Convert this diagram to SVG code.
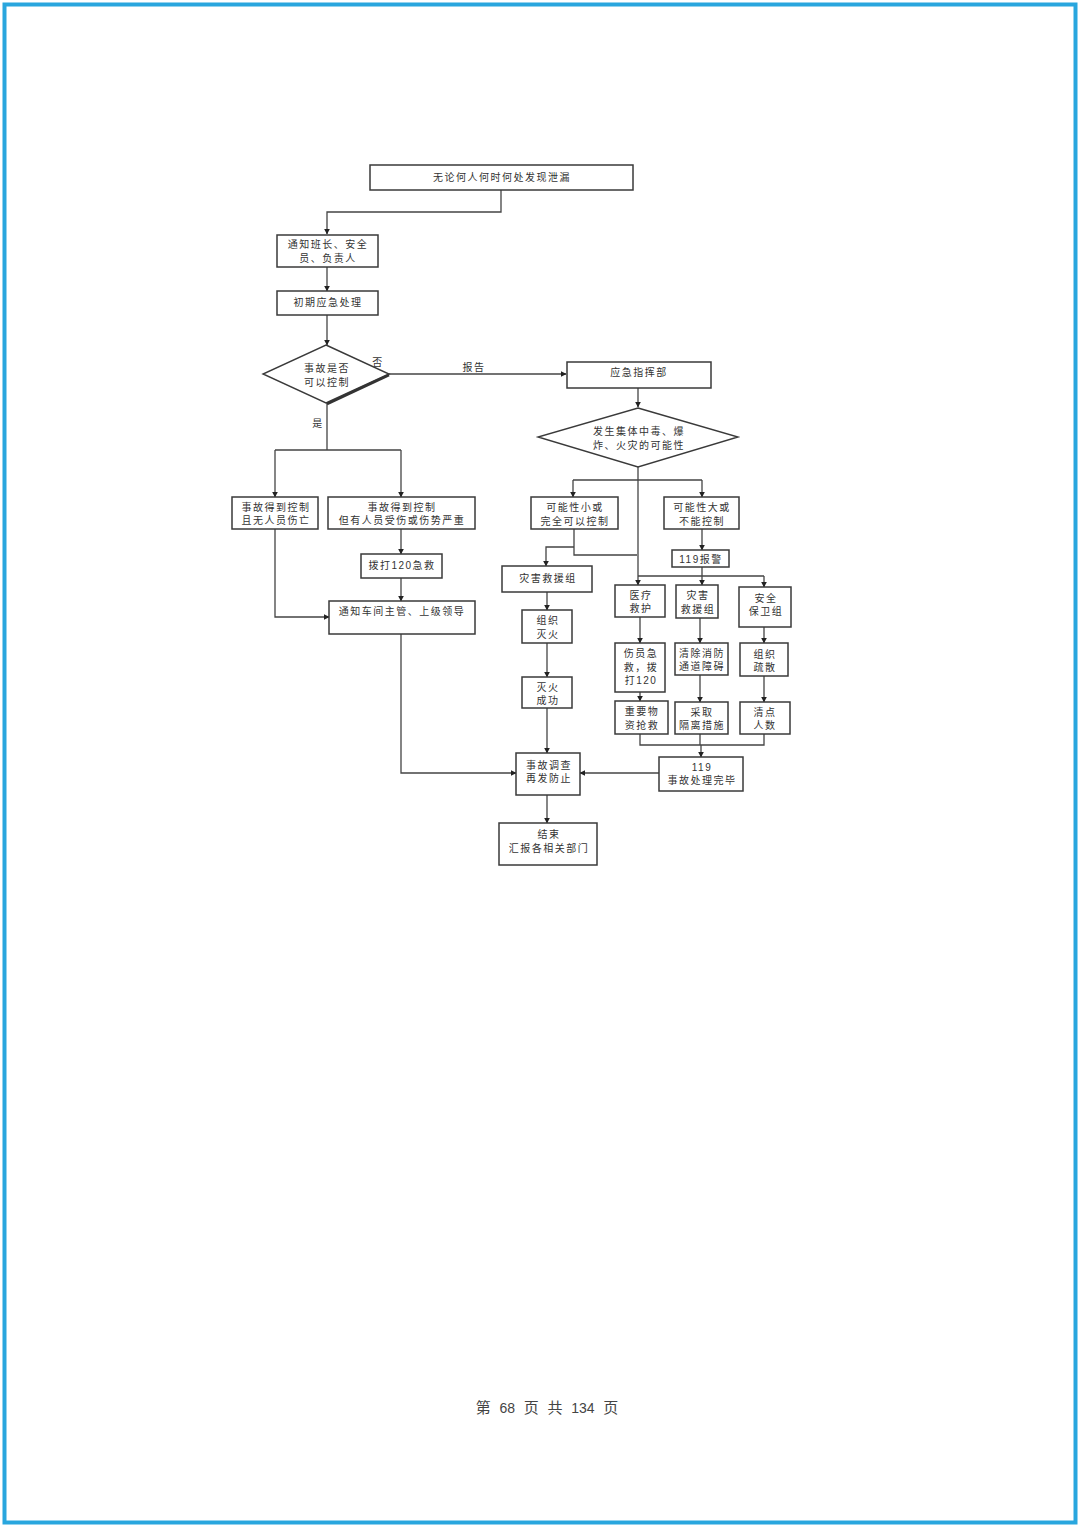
<svg xmlns="http://www.w3.org/2000/svg" width="1080" height="1527" viewBox="0 0 1080 1527">
<style>
.bx{fill:#fff;stroke:#3a3a3a;stroke-width:1.5}
.dm{fill:#fff;stroke:#3a3a3a;stroke-width:1.4}
.sh{fill:none;stroke:#333;stroke-width:2.6}
.t{font-family:"Liberation Sans","Noto Sans CJK SC",sans-serif;font-size:10px;fill:#333;text-anchor:middle;dominant-baseline:central;letter-spacing:1.5px}
.c{fill:none;stroke:#444;stroke-width:1.3}
.f{font-family:"Liberation Serif","Noto Sans CJK SC",serif;font-size:15px;fill:#444;text-anchor:middle;dominant-baseline:central;word-spacing:5px}
.n{font-family:"Liberation Sans",sans-serif;font-size:14px}
</style>
<defs>
<marker id="ah" viewBox="0 0 10 10" refX="9" refY="5" markerWidth="6" markerHeight="6" orient="auto" markerUnits="userSpaceOnUse">
<path d="M0,0 L10,5 L0,10 z" fill="#222"/>
</marker>
</defs>
<rect x="0" y="0" width="1080" height="1527" fill="#fff"/>
<rect x="4.5" y="4.5" width="1071" height="1518" fill="none" stroke="#29a6de" stroke-width="4"/>

<g id="connectors">
<path class="c" d="M501,190 V212 H327 V234" marker-end="url(#ah)"/>
<path class="c" d="M327,267 V291" marker-end="url(#ah)"/>
<path class="c" d="M327,315 V345" marker-end="url(#ah)"/>
<path class="c" d="M389,374 H566" marker-end="url(#ah)"/>
<path class="c" d="M638,388 V407" marker-end="url(#ah)"/>
<path class="c" d="M327,403 V450 M275,450 H401"/>
<path class="c" d="M275,450 V497" marker-end="url(#ah)"/>
<path class="c" d="M401,450 V497" marker-end="url(#ah)"/>
<path class="c" d="M401,529 V554" marker-end="url(#ah)"/>
<path class="c" d="M401,578 V601" marker-end="url(#ah)"/>
<path class="c" d="M275,529 V617 H329" marker-end="url(#ah)"/>
<path class="c" d="M401,634 V773 H516" marker-end="url(#ah)"/>
<path class="c" d="M638,467 V585" marker-end="url(#ah)"/>
<path class="c" d="M573,480 H702"/>
<path class="c" d="M573,480 V497" marker-end="url(#ah)"/>
<path class="c" d="M702,480 V497" marker-end="url(#ah)"/>
<path class="c" d="M574,529 V555 H637"/>
<path class="c" d="M574,547 H546 V566" marker-end="url(#ah)"/>
<path class="c" d="M702,529 V550" marker-end="url(#ah)"/>
<path class="c" d="M702,567 V576 M638,576 H764"/>
<path class="c" d="M702,576 V585" marker-end="url(#ah)"/>
<path class="c" d="M764,576 V587" marker-end="url(#ah)"/>
<path class="c" d="M640,617 V643" marker-end="url(#ah)"/>
<path class="c" d="M700,618 V643" marker-end="url(#ah)"/>
<path class="c" d="M764,627 V643" marker-end="url(#ah)"/>
<path class="c" d="M640,692 V701" marker-end="url(#ah)"/>
<path class="c" d="M700,675 V702" marker-end="url(#ah)"/>
<path class="c" d="M764,676 V702" marker-end="url(#ah)"/>
<path class="c" d="M640,734 V745 H764 V734 M700,734 V745"/>
<path class="c" d="M701,745 V757" marker-end="url(#ah)"/>
<path class="c" d="M659,773 H580" marker-end="url(#ah)"/>
<path class="c" d="M547,592 V610" marker-end="url(#ah)"/>
<path class="c" d="M547,643 V677" marker-end="url(#ah)"/>
<path class="c" d="M547,708 V753" marker-end="url(#ah)"/>
<path class="c" d="M547,795 V823" marker-end="url(#ah)"/>
<text class="t" x="378" y="362">否</text>
<text class="t" x="474" y="367">报告</text>
<text class="t" x="318" y="423">是</text>
</g>

<g id="n1"><rect class="bx" x="370" y="165" width="263" height="25"/><text class="t" x="502" y="177">无论何人何时何处发现泄漏</text></g>
<g id="n2"><rect class="bx" x="277" y="235" width="101" height="32"/><text class="t" x="328" y="244">通知班长、安全</text><text class="t" x="328" y="258">员、负责人</text></g>
<g id="n3"><rect class="bx" x="277" y="291" width="101" height="24"/><text class="t" x="328" y="302">初期应急处理</text></g>
<g id="d1"><polygon class="dm" points="326,345 389,374 326,403 263,374"/><path class="sh" d="M389,375 L327,404"/><text class="t" x="327" y="368">事故是否</text><text class="t" x="327" y="382">可以控制</text></g>
<g id="n4"><rect class="bx" x="567" y="362" width="144" height="26"/><text class="t" x="639" y="372">应急指挥部</text></g>
<g id="d2"><polygon class="dm" points="638,408 738,437 638,467 538,437"/><text class="t" x="639" y="431">发生集体中毒、爆</text><text class="t" x="639" y="445">炸、火灾的可能性</text></g>
<g id="n5"><rect class="bx" x="232" y="497" width="86" height="32"/><text class="t" x="276" y="507">事故得到控制</text><text class="t" x="276" y="520">且无人员伤亡</text></g>
<g id="n6"><rect class="bx" x="328" y="497" width="147" height="32"/><text class="t" x="402" y="507">事故得到控制</text><text class="t" x="402" y="520">但有人员受伤或伤势严重</text></g>
<g id="n7"><rect class="bx" x="361" y="554" width="81" height="24"/><text class="t" x="402" y="565">拨打120急救</text></g>
<g id="n8"><rect class="bx" x="329" y="601" width="146" height="33"/><text class="t" x="402" y="611">通知车间主管、上级领导</text></g>
<g id="n9"><rect class="bx" x="531" y="497" width="87" height="32"/><text class="t" x="575" y="507">可能性小或</text><text class="t" x="575" y="521">完全可以控制</text></g>
<g id="n10"><rect class="bx" x="664" y="497" width="75" height="32"/><text class="t" x="702" y="507">可能性大或</text><text class="t" x="702" y="521">不能控制</text></g>
<g id="n11"><rect class="bx" x="672" y="550" width="57" height="17"/><text class="t" x="701" y="559">119报警</text></g>
<g id="n12"><rect class="bx" x="502" y="566" width="90" height="26"/><text class="t" x="548" y="578">灾害救援组</text></g>
<g id="n13"><rect class="bx" x="522" y="610" width="50" height="33"/><text class="t" x="548" y="620">组织</text><text class="t" x="548" y="634">灭火</text></g>
<g id="n14"><rect class="bx" x="522" y="677" width="50" height="31"/><text class="t" x="548" y="687">灭火</text><text class="t" x="548" y="700">成功</text></g>
<g id="n15"><rect class="bx" x="615" y="585" width="50" height="32"/><text class="t" x="641" y="595">医疗</text><text class="t" x="641" y="608">救护</text></g>
<g id="n16"><rect class="bx" x="676" y="585" width="42" height="33"/><text class="t" x="698" y="595">灾害</text><text class="t" x="698" y="609">救援组</text></g>
<g id="n17"><rect class="bx" x="739" y="587" width="52" height="40"/><text class="t" x="766" y="598">安全</text><text class="t" x="766" y="611">保卫组</text></g>
<g id="n18"><rect class="bx" x="615" y="643" width="50" height="49"/><text class="t" x="641" y="653">伤员急</text><text class="t" x="641" y="667">救，拨</text><text class="t" x="641" y="680">打120</text></g>
<g id="n19"><rect class="bx" x="675" y="643" width="53" height="32"/><text class="t" x="702" y="653">清除消防</text><text class="t" x="702" y="666">通道障碍</text></g>
<g id="n20"><rect class="bx" x="740" y="643" width="48" height="33"/><text class="t" x="765" y="654">组织</text><text class="t" x="765" y="667">疏散</text></g>
<g id="n21"><rect class="bx" x="615" y="701" width="53" height="33"/><text class="t" x="642" y="711">重要物</text><text class="t" x="642" y="725">资抢救</text></g>
<g id="n22"><rect class="bx" x="675" y="702" width="53" height="32"/><text class="t" x="702" y="712">采取</text><text class="t" x="702" y="725">隔离措施</text></g>
<g id="n23"><rect class="bx" x="740" y="702" width="50" height="32"/><text class="t" x="765" y="712">清点</text><text class="t" x="765" y="725">人数</text></g>
<g id="n24"><rect class="bx" x="659" y="757" width="84" height="34"/><text class="t" x="702" y="767">119</text><text class="t" x="702" y="780">事故处理完毕</text></g>
<g id="n25"><rect class="bx" x="516" y="753" width="64" height="42"/><text class="t" x="549" y="765">事故调查</text><text class="t" x="549" y="778">再发防止</text></g>
<g id="n26"><rect class="bx" x="499" y="823" width="98" height="42"/><text class="t" x="549" y="834">结束</text><text class="t" x="549" y="848">汇报各相关部门</text></g>

<text class="f" x="547" y="1408">第 <tspan class="n">68</tspan> 页 共 <tspan class="n">134</tspan> 页</text>
</svg>
